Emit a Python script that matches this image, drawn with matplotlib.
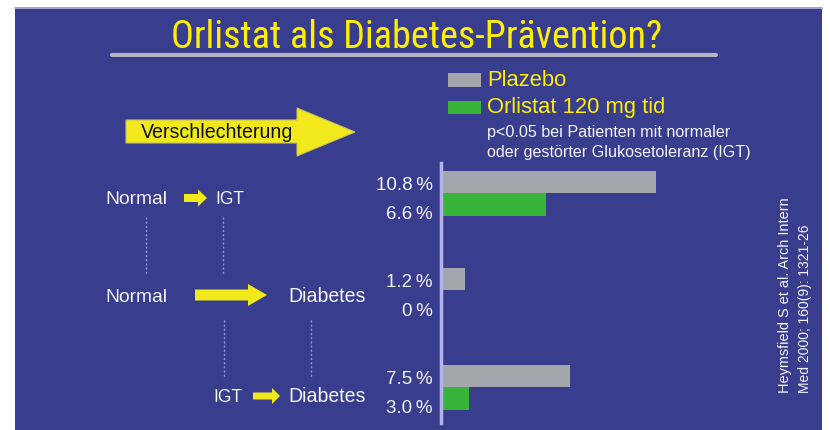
import matplotlib
matplotlib.use("Agg")
import matplotlib.pyplot as plt
from matplotlib.patches import Rectangle, Polygon
from matplotlib.lines import Line2D
from matplotlib import font_manager

# ---------------- data ----------------
title = "Orlistat als Diabetes-Prävention?"
legend_labels = ["Plazebo", "Orlistat 120 mg tid"]
note_lines = ["p<0.05 bei Patienten mit normaler", "oder gestörter Glukosetoleranz (IGT)"]
groups_from = ["Normal", "Normal", "IGT"]
groups_to = ["IGT", "Diabetes", "Diabetes"]
placebo_labels = ["10.8\u2009%", "1.2\u2009%", "7.5\u2009%"]
orlistat_labels = ["6.6\u2009%", "0\u2009%", "3.0\u2009%"]
# bar lengths as drawn in the picture (in % on the axis scale)
placebo_len = [10.8, 1.2, 6.5]
orlistat_len = [5.3, 0.0, 1.4]
reference = ["Heymsfield S et al. Arch Intern", "Med 2000; 160(9): 1321-26"]
arrow_text = "Verschlechterung"

# ---------------- style ----------------
W, H = 830, 430
BLUE = "#393d8e"
YELLOW = "#fff000"
GREY = "#a3a6aa"
GREEN = "#38b43a"
WHITE = "#f4f4fa"

SANS = ["Liberation Sans", "DejaVu Sans"]

# look for a condensed / narrow sans face for the title
candidates = []
for f in font_manager.fontManager.ttflist:
    nm = f.name.lower()
    st = str(f.stretch).lower()
    fn = f.fname.lower()
    if f.style != "normal":
        continue
    if f.weight not in (400, "normal", "regular"):
        continue
    if "serif" in nm or "mono" in nm or "serif" in fn or "mono" in fn:
        continue
    if ("narrow" in nm or "condensed" in nm or "condensed" in st or "narrow" in st
            or "narrow" in fn or "condensed" in fn):
        score = 0
        for k, key in enumerate(["liberation", "arial", "roboto", "dejavu", "noto", "open"]):
            if key in nm or key in fn:
                score = 10 - k
                break
        if "semi" in nm or "semi" in fn or "extra" in fn:
            score -= 3
        candidates.append((score, f.fname))
candidates.sort(reverse=True)
narrow_file = candidates[0][1] if candidates else None
title_props = (dict(fontproperties=font_manager.FontProperties(fname=narrow_file))
               if narrow_file else dict(family=SANS))

fig = plt.figure(figsize=(W / 100, H / 100), dpi=100)
fig.patch.set_facecolor("white")
renderer = fig.canvas.get_renderer()


def P(x, y):
    return (x / W, 1 - y / H)


def txt(x, y, s, width=None, size=12, ha="left", va="center", rotation=0, **kw):
    if "fontproperties" not in kw:
        kw.setdefault("family", SANS)
    t = fig.text(x / W, 1 - y / H, s, ha=ha, va=va,
                 rotation=rotation, rotation_mode="anchor", zorder=4, **kw)
    t.set_fontsize(size)
    if width:
        bb = t.get_window_extent(renderer)
        cur = bb.height if rotation in (90, 270) else bb.width
        t.set_fontsize(size * width / cur)
    return t


# background
fig.patches.append(Rectangle(P(15, 430), (822 - 15) / W, (430 - 7) / H,
                             transform=fig.transFigure, facecolor=BLUE,
                             edgecolor="none", zorder=-5))
fig.lines.append(Line2D([15 / W, 822 / W], [1 - 7.5 / H] * 2, transform=fig.transFigure,
                        color="#b9b9d9", lw=1.2, zorder=1))

# title + underline
txt(417, 37, title, width=492, size=24, ha="center", color=YELLOW, **title_props)
fig.lines.append(Line2D([112 / W, 716 / W], [1 - 56 / H] * 2, transform=fig.transFigure,
                        color="#2a2d6a", lw=3, zorder=1, solid_capstyle="round"))
fig.lines.append(Line2D([112 / W, 716 / W], [1 - 54.5 / H] * 2, transform=fig.transFigure,
                        color="#b4b4c4", lw=3, zorder=2, solid_capstyle="round"))

# legend
fig.patches.append(Rectangle(P(448, 87), 33 / W, 14 / H, transform=fig.transFigure,
                             facecolor=GREY, edgecolor="none", zorder=2))
fig.patches.append(Rectangle(P(448, 114), 33 / W, 13 / H, transform=fig.transFigure,
                             facecolor=GREEN, edgecolor="none", zorder=2))
txt(487, 81, legend_labels[0], width=80, size=14, color=YELLOW)
txt(487, 108, legend_labels[1], width=180, size=14, color=YELLOW)
txt(487, 132, note_lines[0], width=243, size=10, color=WHITE)
txt(487, 153, note_lines[1], width=265, size=10, color=WHITE)

# big arrow
big = [(126, 120), (297, 120), (297, 108), (355, 132), (297, 156), (297, 143), (126, 143)]
fig.patches.append(Polygon([P(*p) for p in big], closed=True, transform=fig.transFigure,
                           facecolor="#f2e91c", edgecolor="#c9c060", lw=0.8, zorder=2))
txt(141, 132, arrow_text, width=152, size=12, color="#111111")


def small_arrow(x0, x1, xh, yc, shaft, head):
    pts = [(x0, yc - shaft / 2), (xh, yc - shaft / 2), (xh, yc - head / 2), (x1, yc),
           (xh, yc + head / 2), (xh, yc + shaft / 2), (x0, yc + shaft / 2)]
    fig.patches.append(Polygon([P(*p) for p in pts], closed=True, transform=fig.transFigure,
                               facecolor="#f2e91c", edgecolor="none", zorder=2))


# left diagram
row_y = [199, 297, 397]
from_x = [105, 105, 213]
to_x = [215, 288, 288]
for i in range(3):
    txt(from_x[i], row_y[i], groups_from[i],
        width=62 if groups_from[i] == "Normal" else 29, size=13, color=WHITE)
    txt(to_x[i], row_y[i], groups_to[i],
        width=29 if groups_to[i] == "IGT" else 77, size=13, color=WHITE)
small_arrow(184, 207, 198, 198, 8, 17)
small_arrow(195, 267, 248, 295, 11, 22)
small_arrow(253, 280, 272, 396, 7, 16)

for (x, y0, y1) in [(146, 217, 275), (223, 217, 275), (224, 320, 378), (311, 320, 378)]:
    fig.lines.append(Line2D([x / W, x / W], [1 - y0 / H, 1 - y1 / H], transform=fig.transFigure,
                            color="#7f9be6", lw=1.0, linestyle=(0, (1.5, 1.5)), zorder=2))

# bar chart
ax = fig.add_axes([441 / W, 1 - 423 / H, 300 / W, 260 / H])
ax.set_zorder(5)
ax.patch.set_visible(False)
idx = list(range(len(placebo_len)))
ax.barh([i - 0.115 for i in idx], placebo_len, height=0.225, color=GREY, zorder=2)
ax.barh([i + 0.115 for i in idx], orlistat_len, height=0.235, color=GREEN, zorder=2)
ax.set_xlim(0, 300 / 19.9)
ax.set_ylim(2.371, -0.309)
ticks, labels = [], []
for i in idx:
    ticks += [i - 0.1, i + 0.205]
    labels += [placebo_labels[i], orlistat_labels[i]]
ax.set_yticks(ticks)
ax.set_yticklabels(labels, color=WHITE, fontsize=13.5, family=SANS)
ax.tick_params(axis="y", length=0, pad=6)
ax.set_xticks([])
for s in ["top", "right", "bottom"]:
    ax.spines[s].set_visible(False)
ax.spines["left"].set_color("#b3b3ea")
ax.spines["left"].set_linewidth(2.5)
ax.spines["left"].set_zorder(3)

# reference (rotated)
txt(785, 393, reference[0], width=196, size=10, rotation=90, color=WHITE)
txt(805, 393, reference[1], width=168, size=10, rotation=90, color=WHITE)

fig.savefig("out.png", dpi=100, facecolor="white")
